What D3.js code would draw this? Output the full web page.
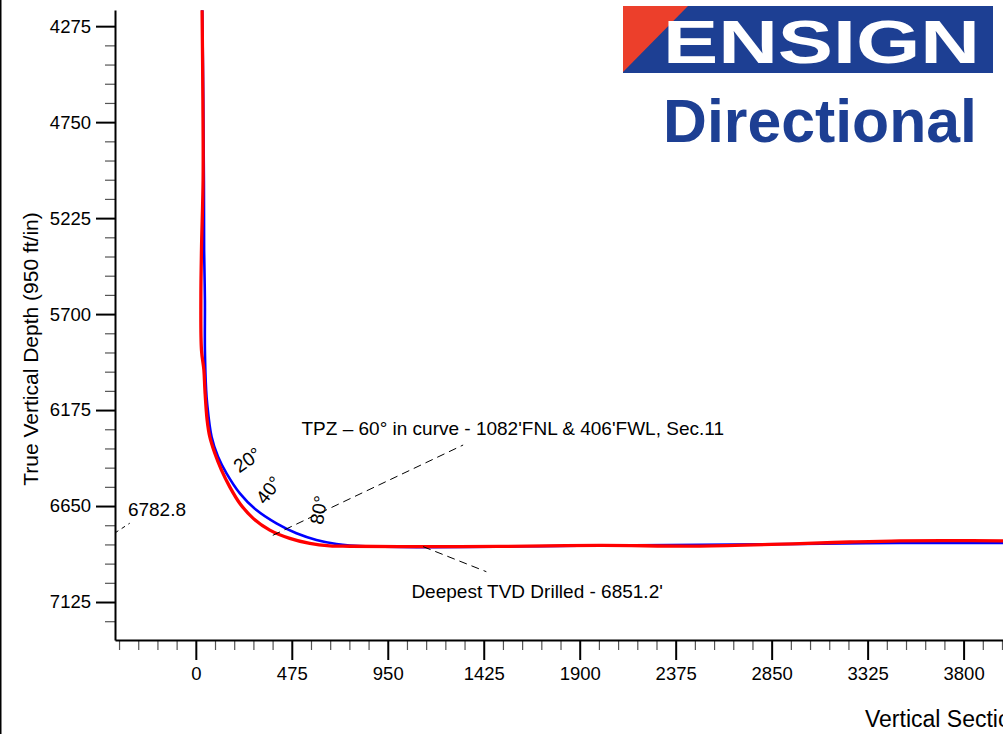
<!DOCTYPE html>
<html>
<head>
<meta charset="utf-8">
<script src="https://cdn.jsdelivr.net/npm/d3@7"></script>
<style>
  html, body { margin: 0; padding: 0; background: #fff; overflow: hidden; }
  svg { display: block; }
  text { font-family: "Liberation Sans", Arial, sans-serif; fill: #000; }
</style>
</head>
<body>
<svg id="svg" width="1003" height="734"></svg>
<script>
// plan (blue) and actual (red) wellbore: vertical section / TVD in ft
var planVS  = [32, 37, 40, 41, 45, 45, 51, 56, 78, 110, 152, 218, 300, 399, 498, 597, 696, 762, 1009, 1999, 2989, 3483, 3995];
var planTVD = [4196, 4641, 5037, 5383, 5631, 5878, 6076, 6142, 6307, 6406, 6488, 6587, 6670, 6736, 6785, 6818, 6838, 6845, 6853, 6845, 6838, 6833, 6833];

var actualVS  = [31, 35, 36, 28, 25, 28, 40, 45, 56, 69, 94, 127, 168, 218, 284, 366, 465, 564, 663, 762, 1158, 1504, 1999, 2494, 2989, 3236, 3483, 3731, 3995];
var actualTVD = [4196, 4641, 5037, 5383, 5631, 5878, 5977, 6076, 6224, 6307, 6389, 6472, 6555, 6637, 6711, 6769, 6810, 6835, 6847, 6849, 6851, 6850, 6845, 6848, 6836, 6828, 6822, 6821, 6822];

var xTicks = [0, 475, 950, 1425, 1900, 2375, 2850, 3325, 3800];
var yTicks = [4275, 4750, 5225, 5700, 6175, 6650, 7125];
var minorStep = 95;

var inclLabels = ["20°", "40°", "80°"];
var inclVS  = [255, 361, 609];
var inclTVD = [6422, 6571, 6670];
var inclRot = [-35, -52, -80];

var svg = d3.select("#svg");

var x = d3.scaleLinear().domain([-400, 3995]).range([115, 1003]);
var y = d3.scaleLinear().domain([4195, 7313]).range([10, 640]);

// left page frame
svg.append("line").attr("x1", 0.75).attr("x2", 0.75).attr("y1", 0).attr("y2", 734)
    .attr("stroke", "#000").attr("stroke-width", 1.5);

// minor ticks
var xMinor = d3.range(-380, 3996, minorStep).filter(function(v){ return xTicks.indexOf(v) < 0; });
var yMinor = d3.range(4275, 7313, minorStep).filter(function(v){ return yTicks.indexOf(v) < 0; });

var gxMinor = svg.append("g").attr("transform", "translate(0," + y.range()[1] + ")")
    .call(d3.axisBottom(x).tickValues(xMinor).tickSize(10).tickSizeOuter(0).tickFormat(""));
var gyMinor = svg.append("g").attr("transform", "translate(" + x.range()[0] + ",0)")
    .call(d3.axisLeft(y).tickValues(yMinor).tickSize(10).tickSizeOuter(0).tickFormat(""));
[gxMinor, gyMinor].forEach(function(g){
  g.select(".domain").remove();
  g.selectAll(".tick line").attr("stroke", "#555").attr("stroke-width", 1.2);
});

// major axes
var gx = svg.append("g").attr("transform", "translate(0," + y.range()[1] + ")")
    .call(d3.axisBottom(x).tickValues(xTicks).tickSize(20).tickSizeOuter(0).tickPadding(7).tickFormat(d3.format("d")));
var gy = svg.append("g").attr("transform", "translate(" + x.range()[0] + ",0)")
    .call(d3.axisLeft(y).tickValues(yTicks).tickSize(19).tickSizeOuter(0).tickPadding(5).tickFormat(d3.format("d")));
[gx, gy].forEach(function(g){
  g.select(".domain").attr("stroke", "#000").attr("stroke-width", 2);
  g.selectAll(".tick line").attr("stroke", "#000").attr("stroke-width", 2);
  g.selectAll(".tick text").attr("font-family", "Liberation Sans, Arial, sans-serif")
    .attr("font-size", "18.5px").attr("fill", "#000");
});

// axis titles
svg.append("text")
    .attr("transform", "translate(38,349) rotate(-90)")
    .attr("text-anchor", "middle")
    .attr("font-size", "21px")
    .text("True Vertical Depth (950 ft/in)");

svg.append("text")
    .attr("x", 865).attr("y", 727)
    .attr("font-size", "23px")
    .text("Vertical Section (950 ft/in)");

// wellbore lines
var line = d3.line()
    .x(function(d){ return x(d[0]); })
    .y(function(d){ return y(d[1]); })
    .curve(d3.curveCatmullRom.alpha(0.5));

var plan = d3.zip(planVS, planTVD);
var actual = d3.zip(actualVS, actualTVD);

svg.append("path").datum(plan).attr("d", line)
    .attr("fill", "none").attr("stroke", "#0000ff").attr("stroke-width", 2.6);
svg.append("path").datum(actual).attr("d", line)
    .attr("fill", "none").attr("stroke", "#ff0000").attr("stroke-width", 3.3);

// inclination labels
svg.selectAll("text.incl")
    .data(inclLabels)
    .enter().append("text")
    .attr("class", "incl")
    .attr("text-anchor", "middle")
    .attr("dominant-baseline", "central")
    .attr("font-size", "19px")
    .attr("transform", function(d, i){
      return "translate(" + x(inclVS[i]) + "," + y(inclTVD[i]) + ") rotate(" + inclRot[i] + ")";
    })
    .text(function(d){ return d; });

// callouts
var callouts = [
  {label: "6782.8", from: [-400, 6783], to: [-327, 6735], at: [-336, 6699], dash: "4,4"},
  {label: "TPZ \u2013 60° in curve - 1082'FNL & 406'FWL, Sec.11", from: [381, 6795], to: [1323, 6348], at: [523, 6299], dash: "8,5"},
  {label: "Deepest TVD Drilled - 6851.2'", from: [1125, 6851], to: [1438, 6975], at: [1067, 7105], dash: "8,5"}
];

svg.selectAll("line.callout")
    .data(callouts)
    .enter().append("line")
    .attr("class", "callout")
    .attr("x1", function(d){ return x(d.from[0]); })
    .attr("y1", function(d){ return y(d.from[1]); })
    .attr("x2", function(d){ return x(d.to[0]); })
    .attr("y2", function(d){ return y(d.to[1]); })
    .attr("stroke", "#000").attr("stroke-width", 1)
    .attr("stroke-dasharray", function(d){ return d.dash; });

svg.selectAll("text.callout")
    .data(callouts)
    .enter().append("text")
    .attr("class", "callout")
    .attr("x", function(d){ return x(d.at[0]); })
    .attr("y", function(d){ return y(d.at[1]); })
    .attr("font-size", "19px")
    .text(function(d){ return d.label; });

// logo
var logo = svg.append("g");
logo.append("rect").attr("x", 623).attr("y", 6).attr("width", 370).attr("height", 67).attr("fill", "#1d3f93");
logo.append("polygon").attr("points", "623,6 688,6 623,72").attr("fill", "#ec3f2b");
logo.append("text")
    .attr("x", 663).attr("y", 63)
    .attr("textLength", 317).attr("lengthAdjust", "spacingAndGlyphs")
    .attr("font-family", "DejaVu Sans, sans-serif").attr("font-weight", "bold")
    .attr("font-size", "62px")
    .style("fill", "#fff")
    .text("ENSIGN");
logo.append("text")
    .attr("x", 663).attr("y", 142)
    .attr("textLength", 314).attr("lengthAdjust", "spacingAndGlyphs")
    .attr("font-family", "DejaVu Sans Condensed, DejaVu Sans, sans-serif").attr("font-weight", "bold")
    .attr("font-size", "62px")
    .style("fill", "#1d3f93")
    .text("Directional");
</script>
</body>
</html>
